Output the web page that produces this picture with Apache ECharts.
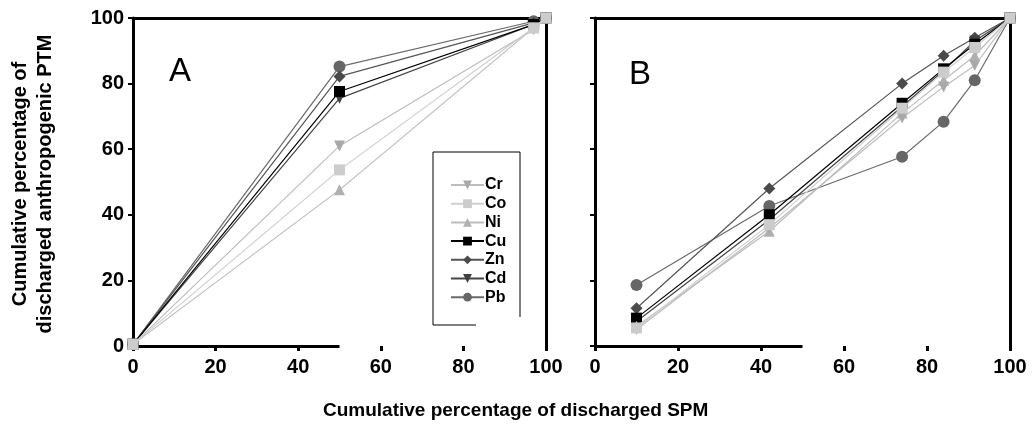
<!DOCTYPE html>
<html><head><meta charset="utf-8">
<script src="https://cdn.jsdelivr.net/npm/echarts@6/dist/echarts.min.js"></script>
<style>html,body{margin:0;padding:0;background:#fff}#c{width:1036px;height:436px}</style>
</head><body><div id="c"></div>
<script>
// ---- data ----
const metals = ['Cr', 'Co', 'Ni', 'Cu', 'Zn', 'Cd', 'Pb'];
const xTicks = [0, 20, 40, 60, 80, 100];
const yTicks = [0, 20, 40, 60, 80, 100];
const xA = [0, 50, 97, 100];
const A_Cr = [0.5, 61, 96.5, 100];
const A_Co = [0.5, 53.7, 97, 100];
const A_Ni = [0.5, 47.6, 97, 100];
const A_Cu = [0.5, 77.6, 98, 100];
const A_Zn = [0.5, 82.2, 98.5, 100];
const A_Cd = [0.5, 75.5, 98, 100];
const A_Pb = [0.5, 85.2, 99, 100];
const xB = [10, 42, 74, 84, 91.5, 100];
const B_Cr = [5, 36, 69.5, 79, 85.5, 100];
const B_Co = [5.5, 37, 72.5, 83.5, 91, 100];
const B_Ni = [6, 35, 71, 81, 88.5, 100];
const B_Cu = [8.5, 40, 74, 84.5, 92, 100];
const B_Zn = [11.5, 48, 80, 88.5, 94, 100];
const B_Cd = [7.5, 38.5, 73, 84, 93, 100];
const B_Pb = [18.6, 42.7, 57.7, 68.4, 81, 100];
const bottomAxisSpan = [0, 50];

const A = {Cr: A_Cr, Co: A_Co, Ni: A_Ni, Cu: A_Cu, Zn: A_Zn, Cd: A_Cd, Pb: A_Pb};
const B = {Cr: B_Cr, Co: B_Co, Ni: B_Ni, Cu: B_Cu, Zn: B_Zn, Cd: B_Cd, Pb: B_Pb};

const style = {
  Cr: {line: '#bdbdbd', mark: '#a9a9a9', symbol: 'triangle', rot: 180, size: 11},
  Co: {line: '#cfcfcf', mark: '#cccccc', symbol: 'rect', rot: 0, size: 11},
  Ni: {line: '#bdbdbd', mark: '#b0b0b0', symbol: 'triangle', rot: 0, size: 11},
  Cu: {line: '#000000', mark: '#000000', symbol: 'rect', rot: 0, size: 11},
  Zn: {line: '#555555', mark: '#4a4a4a', symbol: 'diamond', rot: 0, size: 12},
  Cd: {line: '#444444', mark: '#404040', symbol: 'triangle', rot: 180, size: 11},
  Pb: {line: '#6a6a6a', mark: '#666666', symbol: 'circle', rot: 0, size: 12}
};
const drawOrder = ['Pb', 'Zn', 'Cd', 'Cu', 'Ni', 'Cr', 'Co'];

const FONT = 'Liberation Sans, Arial, sans-serif';
const chart = echarts.init(document.getElementById('c'));

function mkSeries(panel, xs, data, gi) {
  return drawOrder.map((m, i) => {
    const s = style[m];
    const ser = {
      name: m, type: 'line', xAxisIndex: gi * 2, yAxisIndex: gi * 2,
      data: xs.map((x, k) => [x, data[m][k]]),
      symbol: s.symbol, symbolRotate: s.rot, symbolSize: s.size,
      lineStyle: {color: s.line, width: 1.2},
      itemStyle: {color: s.mark},
      color: s.mark,
      z: 3 + i, animation: false, clip: false
    };
    if (i === 0) {
      ser.markLine = {
        silent: true, symbol: 'none', animation: false,
        label: {show: false},
        lineStyle: {color: '#000', width: 3, type: 'solid'},
        data: [[{coord: [bottomAxisSpan[0], 0]}, {coord: [bottomAxisSpan[1], 0]}]]
      };
    }
    return ser;
  });
}

function axesFor(gi, showYLabels) {
  const xs = [
    {gridIndex: gi, type: 'value', min: 0, max: 100, interval: 20, position: 'bottom',
     axisLine: {show: false, onZero: false},
     axisTick: {show: true, length: 5, lineStyle: {color: '#000', width: 3}},
     axisLabel: {color: '#000', fontSize: 20, fontWeight: 'bold', fontFamily: FONT, margin: 11},
     splitLine: {show: false}},
    {gridIndex: gi, type: 'value', min: 0, max: 100, position: 'top',
     axisLine: {show: true, onZero: false, lineStyle: {color: '#000', width: 3}},
     axisTick: {show: false}, axisLabel: {show: false}, splitLine: {show: false}}
  ];
  const ys = [
    {gridIndex: gi, type: 'value', min: 0, max: 100, interval: 20, position: 'left',
     axisLine: {show: true, onZero: false, lineStyle: {color: '#000', width: 3}},
     axisTick: {show: true, length: 5, lineStyle: {color: '#000', width: 2}},
     axisLabel: {show: showYLabels, color: '#000', fontSize: 20, fontWeight: 'bold', fontFamily: FONT, margin: 9},
     splitLine: {show: false}},
    {gridIndex: gi, type: 'value', min: 0, max: 100, position: 'right',
     axisLine: {show: true, onZero: false, lineStyle: {color: '#000', width: 3}},
     axisTick: {show: false}, axisLabel: {show: false}, splitLine: {show: false}}
  ];
  return {xs, ys};
}

const a0 = axesFor(0, true), a1 = axesFor(1, false);
const xAxis = [a0.xs[0], a0.xs[1], a1.xs[0], a1.xs[1]];
const yAxis = [a0.ys[0], a0.ys[1], a1.ys[0], a1.ys[1]];

const option = {
  backgroundColor: '#fff',
  animation: false,
  textStyle: {fontFamily: FONT},
  grid: [
    {left: 133, top: 18, width: 413, height: 328},
    {left: 595, top: 18, width: 415, height: 328}
  ],
  xAxis, yAxis,
  legend: {
    data: metals, orient: 'vertical', left: 445, top: 172,
    itemWidth: 33, itemHeight: 11, itemGap: 2.7,
    textStyle: {color: '#000', fontSize: 16, fontWeight: 'bold', fontFamily: FONT, padding: [0, 0, 0, -4]},
    selectedMode: false
  },
  graphic: [
    {type: 'polyline', silent: true, shape: {points: [[520, 317], [520, 152], [433, 152], [433, 325], [476, 325]]},
     style: {stroke: '#000', lineWidth: 1, fill: null}},
    {type: 'text', left: 169, top: 55, style: {text: 'A', font: '33px ' + FONT, fill: '#000'}},
    {type: 'text', left: 629, top: 58, style: {text: 'B', font: '33px ' + FONT, fill: '#000'}},
    {type: 'text', left: 323, top: 401, style: {text: 'Cumulative percentage of discharged SPM', font: 'bold 19px ' + FONT, fill: '#000'}},
    {type: 'text', x: 33, y: 184, rotation: Math.PI / 2,
     style: {text: 'Cumulative percentage of\ndischarged anthropogenic PTM', font: 'bold 20px ' + FONT, fill: '#000',
             align: 'center', verticalAlign: 'middle', lineHeight: 25}}
  ],
  series: [].concat(mkSeries('A', xA, A, 0), mkSeries('B', xB, B, 1))
};
chart.setOption(option);
</script></body></html>
